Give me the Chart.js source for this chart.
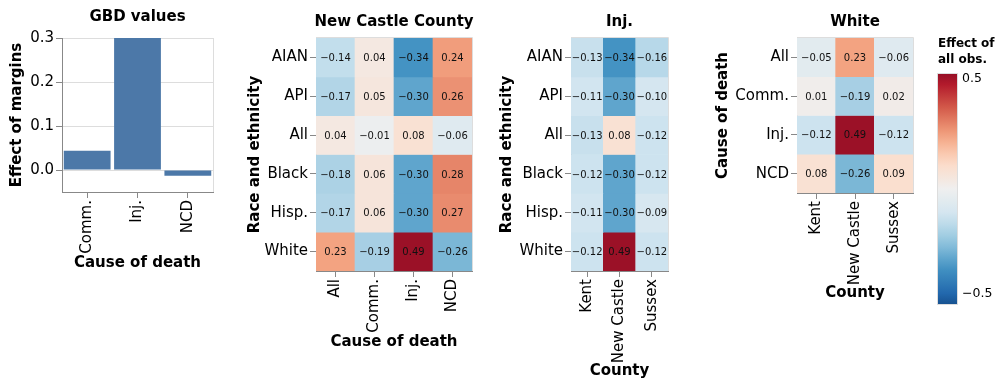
<!DOCTYPE html>
<html>
<head>
<meta charset="utf-8">
<script src="https://cdn.jsdelivr.net/npm/chart.js@4.4.1/dist/chart.umd.min.js"></script>
<style>
  body { margin: 0; background: #fff; width: 997px; height: 388px; overflow: hidden; position: relative; }
  canvas { position: absolute; top: 0; }
</style>
</head>
<body>
<canvas id="gbd" width="230" height="272" style="left:0px"></canvas>
<canvas id="ncc" width="250" height="351" style="left:230px"></canvas>
<canvas id="inj" width="220" height="380" style="left:480px"></canvas>
<canvas id="white" width="297" height="312" style="left:700px"></canvas>
<script>
const FONT = 'DejaVu Sans';

// GBD values panel
const gbdCauses = ['Comm.', 'Inj.', 'NCD'];
const gbdValues = [0.044, 0.30, -0.013];
const gbdTicks = [0, 0.1, 0.2, 0.3];

// New Castle County: race x cause of death
const raceRows = ['AIAN', 'API', 'All', 'Black', 'Hisp.', 'White'];
const causeCols = ['All', 'Comm.', 'Inj.', 'NCD'];
const nccValues = [
  [-0.14, 0.04, -0.34, 0.24],
  [-0.17, 0.05, -0.30, 0.26],
  [0.04, -0.01, 0.08, -0.06],
  [-0.18, 0.06, -0.30, 0.28],
  [-0.17, 0.06, -0.30, 0.27],
  [0.23, -0.19, 0.49, -0.26]
];

// Inj.: race x county
const countyCols = ['Kent', 'New Castle', 'Sussex'];
const injValues = [
  [-0.13, -0.34, -0.16],
  [-0.11, -0.30, -0.10],
  [-0.13, 0.08, -0.12],
  [-0.12, -0.30, -0.12],
  [-0.11, -0.30, -0.09],
  [-0.12, 0.49, -0.12]
];

// White: cause x county
const causeRows = ['All', 'Comm.', 'Inj.', 'NCD'];
const whiteValues = [
  [-0.05, 0.23, -0.06],
  [0.01, -0.19, 0.02],
  [-0.12, 0.49, -0.12],
  [0.08, -0.26, 0.09]
];

const legendTicks = [0.5, -0.5];

// red-blue diverging scale, domain -0.5..0.5
const rdbu = ['#67001f', '#b2182b', '#d6604d', '#f4a582', '#fddbc7', '#efefef',
              '#d1e5f0', '#92c5de', '#4393c3', '#2166ac', '#053061'];
function hex(c) { return [1, 3, 5].map(i => parseInt(c.substr(i, 2), 16)); }
function colorFor(v) {
  let t = Math.min(1, Math.max(0, 0.5 - v));
  t = 0.06 + 0.88 * t;
  const p = t * 10, i = Math.min(9, Math.floor(p)), f = p - i;
  const a = hex(rdbu[i]), b = hex(rdbu[i + 1]);
  return 'rgb(' + a.map((x, k) => Math.round(x + (b[k] - x) * f)).join(',') + ')';
}
function fmt(v) { return (v < 0 ? '\u2212' : '') + Math.abs(v).toFixed(2); }

function framePlugin(title, titleY, drawTop) {
  return {
    id: 'frame',
    afterDraw(chart) {
      const ctx = chart.ctx, a = chart.chartArea;
      ctx.save();
      ctx.strokeStyle = '#ddd';
      ctx.lineWidth = 1;
      ctx.beginPath();
      if (drawTop) {
        ctx.moveTo(a.left, a.top - 0.5);
        ctx.lineTo(a.right + 0.5, a.top - 0.5);
      } else {
        ctx.moveTo(a.right + 0.5, a.top);
      }
      ctx.lineTo(a.right + 0.5, a.bottom);
      ctx.stroke();
      ctx.font = 'bold 15px ' + FONT;
      ctx.fillStyle = '#000';
      ctx.textAlign = 'center';
      ctx.textBaseline = 'middle';
      ctx.fillText(title, (a.left + a.right) / 2, titleY);
      ctx.restore();
    }
  };
}

const cellText = {
  id: 'cellText',
  afterDatasetsDraw(chart) {
    const ctx = chart.ctx;
    ctx.save();
    ctx.font = '10px ' + FONT;
    ctx.fillStyle = '#111';
    ctx.textAlign = 'center';
    ctx.textBaseline = 'middle';
    chart.data.datasets.forEach((ds, i) => {
      chart.getDatasetMeta(i).data.forEach((el, j) => {
        ctx.fillText(fmt(ds.values[j]), el.x, (el.y + el.base) / 2 + 1);
      });
    });
    ctx.restore();
  }
};

const labelFont = { family: FONT, size: 15 };
const titleFont = { family: FONT, size: 15, weight: 'bold' };

new Chart(document.getElementById('gbd'), {
  type: 'bar',
  data: {
    labels: gbdCauses,
    datasets: [{ data: gbdValues, backgroundColor: '#4c78a8', barPercentage: 0.93, categoryPercentage: 1 }]
  },
  options: {
    responsive: false,
    animation: false,
    layout: { padding: { top: 38, right: 17, bottom: 0, left: 0 } },
    plugins: { legend: { display: false }, tooltip: { enabled: false } },
    scales: {
      x: {
        grid: { offset: false, drawOnChartArea: false, tickLength: 6, tickColor: '#888' },
        border: { color: '#888' },
        ticks: { minRotation: 90, maxRotation: 90, padding: 2, color: '#000', font: labelFont },
        title: { display: true, text: 'Cause of death', color: '#000', font: titleFont, padding: 0 },
        afterFit: a => { a.height = 80; }
      },
      y: {
        min: -0.05, max: 0.3,
        afterBuildTicks: a => { a.ticks = gbdTicks.map(v => ({ value: v })); },
        ticks: { callback: v => v.toFixed(1), padding: 2, color: '#000', font: labelFont },
        grid: { color: '#ddd', tickColor: '#888', tickLength: 6 },
        border: { color: '#888' },
        title: { display: true, text: 'Effect of margins', color: '#000', font: titleFont, padding: { top: 8 } },
        afterFit: a => { a.width = 62; }
      }
    }
  },
  plugins: [framePlugin('GBD values', 17, false)]
});

function heatmap(id, o) {
  return new Chart(document.getElementById(id), {
    type: 'bar',
    data: {
      labels: o.cols,
      datasets: o.rows.map((r, i) => ({
        label: r,
        values: o.values[i],
        data: o.cols.map(() => 1),
        backgroundColor: o.values[i].map(colorFor),
        borderWidth: 0,
        barPercentage: 1,
        categoryPercentage: 1
      }))
    },
    options: {
      responsive: false,
      animation: false,
      layout: { padding: { top: 38, right: o.padRight, bottom: o.padBottom, left: 0 } },
      plugins: { legend: { display: false }, tooltip: { enabled: false } },
      scales: {
        x: {
          stacked: true,
          grid: { offset: false, drawOnChartArea: false, tickLength: 6, tickColor: '#888' },
          border: { color: '#888' },
          ticks: { minRotation: 90, maxRotation: 90, autoSkip: false, padding: 2, color: '#000', font: labelFont },
          title: { display: true, text: o.xTitle, color: '#000', font: titleFont, padding: 0 },
          afterFit: a => { a.height = o.xHeight; }
        },
        y: {
          stacked: true,
          reverse: true,
          min: 0, max: o.rows.length,
          afterBuildTicks: a => { a.ticks = o.rows.map((r, i) => ({ value: i + 0.5 })); },
          ticks: { callback: (v, i) => o.rows[i], autoSkip: false, padding: 2, color: '#000', font: labelFont },
          grid: { drawOnChartArea: false, tickLength: 6, tickColor: '#888' },
          border: { color: '#888' },
          title: { display: true, text: o.yTitle, color: '#000', font: titleFont, padding: { top: o.yTitlePad } },
          afterFit: a => { a.width = o.yWidth; }
        }
      }
    },
    plugins: [framePlugin(o.title, 22, true), cellText].concat(o.extra || [])
  });
}

heatmap('ncc', {
  rows: raceRows, cols: causeCols, values: nccValues,
  title: 'New Castle County', xTitle: 'Cause of death', yTitle: 'Race and ethnicity',
  yWidth: 86, xHeight: 80, padRight: 8, padBottom: 0, yTitlePad: 16
});

heatmap('inj', {
  rows: raceRows, cols: countyCols, values: injValues,
  title: 'Inj.', xTitle: 'County', yTitle: 'Race and ethnicity',
  yWidth: 91, xHeight: 109, padRight: 32, padBottom: 0, yTitlePad: 18.5
});

const gradientLegend = {
  id: 'gradientLegend',
  afterDraw(chart) {
    const ctx = chart.ctx, a = chart.chartArea;
    const x0 = a.right + 24, y0 = 73, w = 21, h = 232;
    ctx.save();
    ctx.font = 'bold 12px ' + FONT;
    ctx.fillStyle = '#000';
    ctx.textAlign = 'left';
    ctx.textBaseline = 'middle';
    ctx.fillText('Effect of', x0 + 1, 44);
    ctx.fillText('all obs.', x0 + 1, 60);
    const g = ctx.createLinearGradient(0, y0, 0, y0 + h);
    for (let k = 0; k <= 20; k++) {
      const v = legendTicks[0] + (legendTicks[1] - legendTicks[0]) * k / 20;
      g.addColorStop(k / 20, colorFor(v));
    }
    ctx.fillStyle = g;
    ctx.fillRect(x0, y0, w, h);
    ctx.strokeStyle = '#ddd';
    ctx.strokeRect(x0 + 0.5, y0 + 0.5, w - 1, h - 1);
    ctx.font = '12.5px ' + FONT;
    ctx.fillStyle = '#000';
    ctx.textBaseline = 'alphabetic';
    ctx.fillText(fmt(legendTicks[0]).replace(/0$/, ''), x0 + w + 4, y0 + 9);
    ctx.fillText(fmt(legendTicks[1]).replace(/0$/, ''), x0 + w + 4, y0 + h - 8);
    ctx.restore();
  }
};

heatmap('white', {
  rows: causeRows, cols: countyCols, values: whiteValues,
  title: 'White', xTitle: 'County', yTitle: 'Cause of death',
  yWidth: 97, xHeight: 109, padRight: 84, padBottom: 10, yTitlePad: 14.5,
  extra: [gradientLegend]
});
</script>
</body>
</html>
